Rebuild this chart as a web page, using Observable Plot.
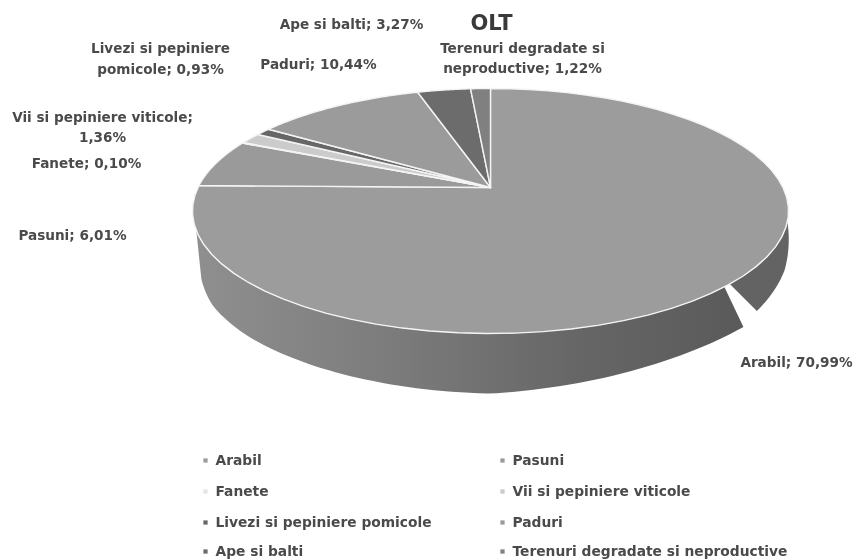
<!DOCTYPE html>
<html>
<head>
<meta charset="utf-8">
<style>
html,body{margin:0;padding:0;background:#fff}
svg{display:block;filter:blur(0.45px)}
</style>
<script src="https://cdn.jsdelivr.net/npm/d3@7"></script>
<script src="https://cdn.jsdelivr.net/npm/@observablehq/plot@0.6"></script>
</head>
<body>
<script>
// Data
const categories = ["Arabil","Pasuni","Fanete","Vii si pepiniere viticole","Livezi si pepiniere pomicole","Paduri","Ape si balti","Terenuri degradate si neproductive"];
const shares = [70.99,6.01,0.10,1.36,0.93,10.44,3.27,1.22];
const shades = ["#9c9c9c","#9a9a9a","#e4e4e4","#cbcbcb","#676767","#9b9b9b","#6c6c6c","#808080"];
const title = "OLT";

// Layout (pixels from the pie hub)
const W = 855, H = 559, hubX = 490, hubY = 187;
const labelBreakAfter = ["", "", "", "Vii si pepiniere viticole;", "Livezi si pepiniere", "", "", "Terenuri degradate si"];
const labelPx = [796,72,86,102,160,318,351,522];
const labelPy = [362,235,163,127.5,59,64,24,58.5];
const legendPx = [205,502,205,502,205,502,205,502];
const legendPy = [460,460,491,491,522,522,551,551];

// Tilted-disc projection of the pie
const a = 292.5, b = 118, k = 0.192;
const rad = d => d * Math.PI / 180;
const rim = deg => {
  const u = Math.sin(rad(deg)), v = Math.cos(rad(deg)), w = 1 + k * v;
  return [a * u / w, b * v / w];
};
const pie = d3.pie().sort(null)(shares);
const toDeg = r => r * 180 / Math.PI;

const slicePts = [];
pie.forEach((p, i) => {
  const s = toDeg(p.startAngle), e = toDeg(p.endAngle);
  slicePts.push({name: categories[i], x: 0, y: 0});
  for (let t = 0; t <= 60; t++) {
    const [x, y] = rim(s + (e - s) * t / 60);
    slicePts.push({name: categories[i], x, y});
  }
  slicePts.push({name: categories[i], x: 0, y: 0});
});

// Side wall pieces: visible rim range plus extrusion offsets along it
function wall(id, from, to, offAngles, offX, offY) {
  const ox = d3.scaleLinear(offAngles, offX), oy = d3.scaleLinear(offAngles, offY);
  const n = 80, pts = [];
  for (let i = 0; i <= n; i++) {
    const [x, y] = rim(from + (to - from) * i / n);
    pts.push({id, x, y});
  }
  for (let i = n; i >= 0; i--) {
    const t = from + (to - from) * i / n;
    const [x, y] = rim(t);
    pts.push({id, x: x + ox(t), y: y - oy(t)});
  }
  return pts;
}
const wallRight = wall("right", 106, 135, [106,120,135], [0,14,27], [0,17,27]);
const wallFront = wall("front", 136.5, 250,
  [136.5,160,180,225,240,250], [19,4,0,0,2,5], [40,52,60,54,52,48]);

const defs = () => {
  const d = d3.create("svg:defs");
  const g = d.append("linearGradient").attr("id", "wallGrad");
  [[0,"#8f8f8f"],[0.35,"#7c7c7c"],[0.7,"#666666"],[1,"#5a5a5a"]].forEach(([o,c]) =>
    g.append("stop").attr("offset", o).attr("stop-color", c));
  return d.node();
};

const labels = categories.map((name, i) => {
  const text = `${name}; ${shares[i].toFixed(2).replace(".", ",")}%`;
  const brk = labelBreakAfter[i];
  return {
    text: brk ? brk + "\n" + text.slice(brk.length).trim() : text,
    x: labelPx[i] - hubX, y: hubY - labelPy[i]
  };
});
const legend = categories.map((name, i) => ({name, x: legendPx[i] - hubX, y: hubY - legendPy[i]}));

const font = "'DejaVu Sans', sans-serif";
const chart = Plot.plot({
  width: W, height: H, margin: 0,
  x: {domain: [-hubX, W - hubX], axis: null},
  y: {domain: [hubY - H, hubY], axis: null},
  color: {domain: categories, range: shades},
  style: {background: "#fff", fontFamily: font},
  marks: [
    defs,
    Plot.line(wallFront, {x: "x", y: "y", z: "id", fill: "url(#wallGrad)", stroke: "none"}),
    Plot.line(wallRight, {x: "x", y: "y", z: "id", fill: "#636363", stroke: "none"}),
    Plot.line(slicePts, {x: "x", y: "y", z: "name", fill: "name", stroke: "#f4f4f4", strokeWidth: 1.4, strokeLinejoin: "round"}),
    Plot.text(labels, {x: "x", y: "y", dy: -2.5, text: "text", fontSize: 13.6, fontWeight: "bold", fill: "#4a4a4a", lineHeight: 1.5, stroke: "none"}),
    Plot.text([title], {x: [491 - hubX], y: [hubY - 23], text: d => d, fontSize: 21, fontWeight: "bold", fill: "#3a3a3a"}),
    Plot.dot(legend, {x: "x", y: "y", symbol: "square", r: 2.4, fill: "name"}),
    Plot.text(legend, {x: d => d.x + 10, y: "y", text: "name", textAnchor: "start", fontSize: 13.8, fontWeight: "bold", fill: "#4a4a4a"})
  ]
});
document.body.appendChild(chart);
</script>
</body>
</html>
